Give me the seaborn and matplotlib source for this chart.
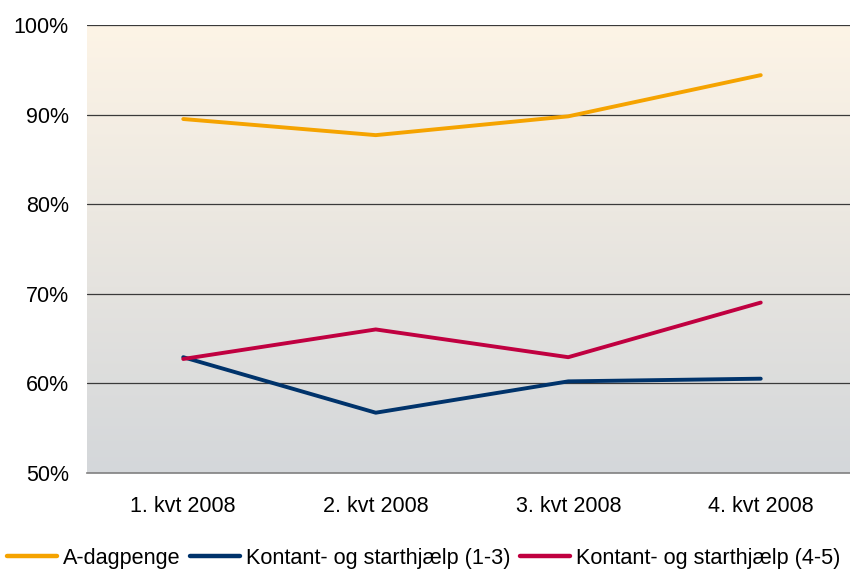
import numpy as np
import pandas as pd
import matplotlib
matplotlib.use("Agg")
import matplotlib.pyplot as plt
from matplotlib.colors import LinearSegmentedColormap
import seaborn as sns

quarters = ["1. kvt 2008", "2. kvt 2008", "3. kvt 2008", "4. kvt 2008"]
a_dagpenge = [89.5, 87.7, 89.8, 94.4]
kontant_13 = [62.9, 56.7, 60.2, 60.5]
kontant_45 = [62.7, 66.0, 62.9, 69.0]
series_names = ["A-dagpenge", "Kontant- og starthjælp (1-3)", "Kontant- og starthjælp (4-5)"]
colors = ["#F5A300", "#00336B", "#C00040"]

df = pd.DataFrame({
    "kvartal": quarters * 3,
    "pct": a_dagpenge + kontant_13 + kontant_45,
    "serie": [s for s in series_names for _ in quarters],
})
df["x"] = df["kvartal"].map({q: i for i, q in enumerate(quarters)})

sns.set_theme(style="white")
plt.rcParams["font.family"] = ["Liberation Sans", "DejaVu Sans"]

fig = plt.figure(figsize=(8.5, 5.72), dpi=100)
ax = fig.add_axes([87 / 850, 99.3 / 572, 770 / 850, 447.7 / 572])

# background gradient (cream top -> grey bottom)
cmap = LinearSegmentedColormap.from_list("bg", ["#D4D7DA", "#FDF4E6"])
grad = np.linspace(0, 1, 256).reshape(-1, 1)
ax.imshow(grad, cmap=cmap, aspect="auto", origin="lower",
          extent=[-0.5, 3.5, 50, 100], zorder=0)

for y in [60, 70, 80, 90, 100]:
    ax.axhline(y, color="#3A3A3A", lw=0.9, zorder=1)

sns.lineplot(data=df, x="x", y="pct", hue="serie", palette=colors,
             linewidth=2.8, ax=ax, zorder=3, legend=True)

ax.set_xlim(-0.5, 3.5)
ax.set_ylim(50, 100)
ax.set_yticks([50, 60, 70, 80, 90, 100])
ax.set_yticklabels([f"{v}%" for v in [50, 60, 70, 80, 90, 100]], fontsize=15.5, color="black")
ax.set_xticks(range(4))
ax.set_xticklabels(quarters, fontsize=15.5, color="black")
ax.set_xticks([-0.5, 0.5, 1.5, 2.5, 3.5], minor=True)
ax.tick_params(axis="x", which="major", length=0, pad=17)
ax.tick_params(axis="x", which="minor", length=5, width=0.9, color="#555555", direction="out")
ax.tick_params(axis="y", length=0, pad=13)
ax.set_xlabel("")
ax.set_ylabel("")

for s in ["top", "right", "left"]:
    ax.spines[s].set_visible(False)
ax.spines["bottom"].set_color("#808080")
ax.spines["bottom"].set_linewidth(1.2)

handles, labels = ax.get_legend_handles_labels()
for h in handles:
    h.set_linewidth(3.2)
ax.legend(handles, labels, loc="center left", bbox_to_anchor=(7 / 850, 0.024),
          bbox_transform=fig.transFigure, ncol=3, frameon=False, fontsize=15.6,
          handlelength=2.3, handletextpad=0.28, columnspacing=0.45, borderaxespad=0,
          borderpad=0, labelcolor="black")

fig.savefig("out.png", dpi=100)
